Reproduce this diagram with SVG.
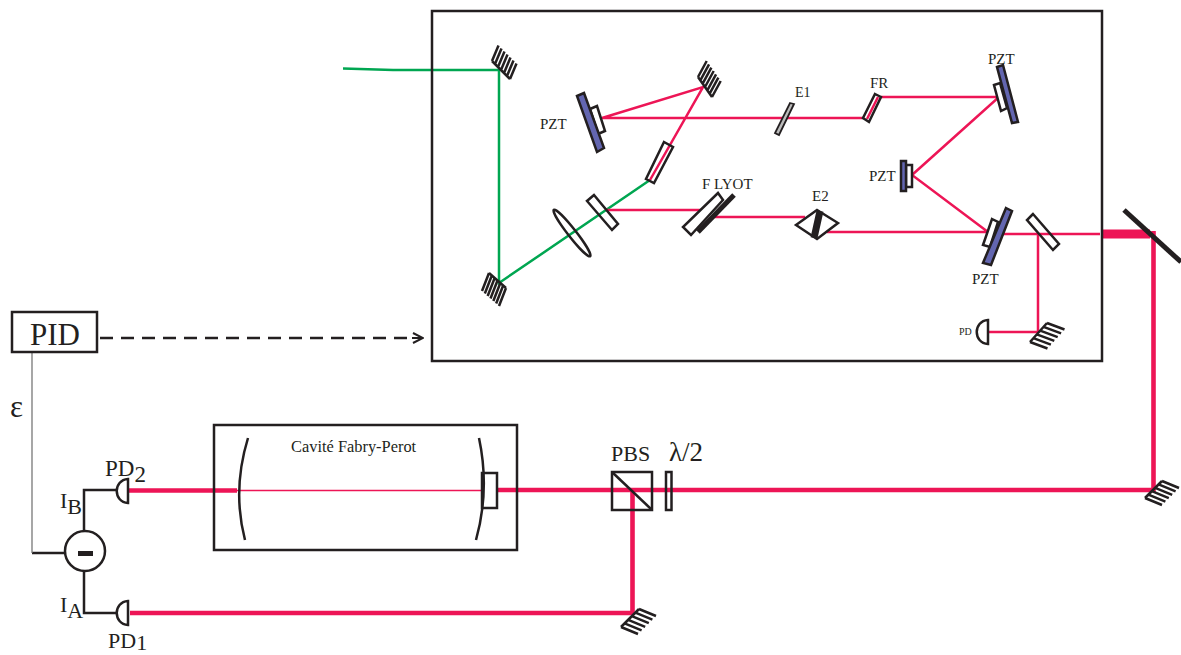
<svg xmlns="http://www.w3.org/2000/svg" width="1181" height="655" viewBox="0 0 1181 655">
<style>
text{font-family:"Liberation Serif","Times New Roman",serif;fill:#231f20}
.t{font-size:15px}.m{font-size:23px}.s{font-size:22px}
.o{fill:#fff;stroke:#231f20;stroke-width:2.5;stroke-linejoin:miter}
.n{fill:none;stroke:#231f20;stroke-width:2.5}
.p{fill:#6366b0;stroke:#231f20;stroke-width:2.5}
.h{fill:none;stroke:#231f20;stroke-width:2.5}
.r{fill:none;stroke:#ed1556;stroke-width:2.5}
.R{fill:none;stroke:#ed1556;stroke-width:4.6}
.g{fill:none;stroke:#00a651;stroke-width:2.5}
</style>
<defs>
<path id="hatch" vector-effect="non-scaling-stroke" class="h" d="M0 0V1M.167 0V1M.333 0V1M.5 0V1M.667 0V1M.833 0V1M1 0V1M0 0H1"/>
<path id="hatch6" vector-effect="non-scaling-stroke" class="h" d="M0 0V1M.2 0V1M.4 0V1M.6 0V1M.8 0V1M1 0V1M0 0H1"/>
<marker id="chev" viewBox="0 0 12 12" refX="11" refY="6" markerWidth="12" markerHeight="12" markerUnits="userSpaceOnUse" orient="auto"><path d="M1 1L11 6L1 11" fill="none" stroke="#231f20" stroke-width="2"/></marker>
</defs>
<rect width="1181" height="655" fill="#fff"/>
<g id="connectors">
<path class="g" d="M343 68.500L393 70H499V283L650 180"/>
<path class="r" d="M650 180L703 87L602 118H863"/>
<path class="r" d="M606 210H712M713 217H805M827 232H988L912 175L999 97H881M867 119L878 97M1002 234H1100M1038 234V332M988 332H1038"/>
<path fill="none" stroke="#ed1556" stroke-width="9" d="M1102 234H1150"/>
<path class="R" d="M1153.500 231V490H498M632.500 490V613H130M128 490.500H237"/>
<path fill="none" stroke="#ed1556" stroke-width="1.500" d="M237 490.500H482"/>
<path fill="none" stroke="#231f20" stroke-width="2.500" d="M117 490H84V531M84 570V613H117M65 553H32"/>
<path fill="none" stroke="#777" stroke-width="1.300" d="M32 352V553"/>
<path fill="none" stroke="#231f20" stroke-width="2.500" stroke-dasharray="13 8" d="M100 338H414"/>
<path fill="none" stroke="#231f20" stroke-width="2" marker-end="url(#chev)" d="M412 338H423"/>
</g>
<g id="cavity-box"><rect class="n" x="432" y="11" width="670" height="350"/></g>
<g id="mirror-m1"><use href="#hatch" transform="matrix(18 18 6.500 -15.500 492 61)"/></g>
<g id="mirror-m2"><use href="#hatch" transform="matrix(14 20 8.700 -16 698 77)"/></g>
<g id="mirror-m3"><use href="#hatch" transform="matrix(17 15 -7 18 489 273)"/></g>
<g id="mirror-m4"><use href="#hatch6" transform="matrix(17 -19 17.500 6.500 1030 342)"/></g>
<g id="mirror-m5"><use href="#hatch6" transform="matrix(18 -18 17 7 621 627)"/></g>
<g id="mirror-m6"><use href="#hatch6" transform="matrix(17 -17 17 7 1145 498)"/></g>
<g id="lens"><ellipse class="n" cx="572" cy="233" rx="29.500" ry="4" transform="rotate(52 572 233)"/></g>
<g id="splitter-1"><polygon class="n" points="594,195 587,201 612,230 618,224"/></g>
<g id="etalon-tube"><polygon class="n" points="664,142 673,147 654,183 646,179"/></g>
<g id="flyot">
<polygon class="o" points="718,193 723,200 691,235 683,227"/>
<path fill="none" stroke="#231f20" stroke-width="5" d="M734 195L698 232"/>
<text class="t" x="702" y="189">F LYOT</text>
</g>
<g id="pzt-1">
<polygon class="o" points="590,109 597,106 605,131 598,134"/>
<polygon class="p" points="577,96 584,93 604,148 597,152"/>
<text class="t" x="540" y="129">PZT</text>
</g>
<g id="e1">
<polygon fill="#bbb" stroke="#231f20" stroke-width="1.800" points="790,103 794,104 779,135 775,133"/>
<text class="t" x="795" y="97" style="font-size:14px">E1</text>
</g>
<g id="fr">
<polygon class="n" points="875,94 881,97 869,122 863,118"/>
<text class="t" x="870" y="88">FR</text>
</g>
<g id="pzt-2">
<polygon class="o" points="994,85 1000,83 1007,108 1001,111"/>
<polygon class="p" points="997,67 1003,65 1018,122 1012,123"/>
<text class="t" x="988" y="64">PZT</text>
</g>
<g id="pzt-3">
<rect class="o" x="906" y="165" width="6" height="22"/>
<rect class="p" x="901" y="161" width="5" height="30"/>
<text class="t" x="869" y="181">PZT</text>
</g>
<g id="e2">
<polygon class="o" points="796,225 817,210 838,223 817,239"/>
<path fill="none" stroke="#231f20" stroke-width="7" d="M820 211L814 238"/>
<text class="t" x="812" y="201">E2</text>
</g>
<g id="pzt-4">
<polygon class="o" points="992,219 998,222 990,247 983,245"/>
<polygon class="p" points="1006,208 1012,211 991,265 983,263"/>
<text class="t" x="972" y="284">PZT</text>
</g>
<g id="splitter-2"><polygon class="n" points="1033,214 1027,220 1053,250 1059,244"/></g>
<g id="pd-monitor">
<path class="o" d="M988 320C973 321 973 343 988 344Z"/>
<text x="959" y="335" style="font-size:10px">PD</text>
</g>
<g id="output-mirror"><path fill="none" stroke="#231f20" stroke-width="5" d="M1124 210L1181 262"/></g>
<g id="pid">
<rect class="n" x="12" y="312" width="85" height="40"/>
<text x="55" y="345" text-anchor="middle" style="font-size:31px">PID</text>
</g>
<text id="epsilon" x="10" y="417" style="font-size:31px">ε</text>
<g id="subtractor">
<circle class="n" cx="85" cy="551" r="20"/>
<rect x="78" y="551" width="15" height="5" fill="#231f20"/>
</g>
<g id="pd2">
<path class="o" d="M128 479C113 480 113 502 128 503Z"/>
<text class="m" x="105" y="476">PD<tspan dy="6">2</tspan></text>
</g>
<g id="pd1">
<path class="o" d="M128 601C113 602 113 624 128 625Z"/>
<text class="s" x="108" y="648">PD<tspan dy="2">1</tspan></text>
</g>
<text id="ib" class="s" x="60" y="508">I<tspan dy="6">B</tspan></text>
<text id="ia" class="s" x="60" y="612">I<tspan dy="6">A</tspan></text>
<g id="fabry-perot">
<rect class="n" x="214" y="425" width="303" height="125"/>
<path class="n" d="M248 438Q232 490 245 540M479 438Q490 490 476 540"/>
<rect class="n" x="482" y="473" width="15" height="35"/>
<text x="291" y="452" style="font-size:16.400px">Cavité Fabry-Perot</text>
</g>
<g id="pbs">
<rect class="n" x="612" y="472" width="40" height="38"/>
<path class="n" d="M612 472L652 510"/>
<text class="s" x="611" y="461">PBS</text>
</g>
<g id="half-wave">
<rect class="n" x="666" y="472" width="5.500" height="38"/>
<text x="669" y="461" style="font-size:27px">λ/2</text>
</g>
</svg>
